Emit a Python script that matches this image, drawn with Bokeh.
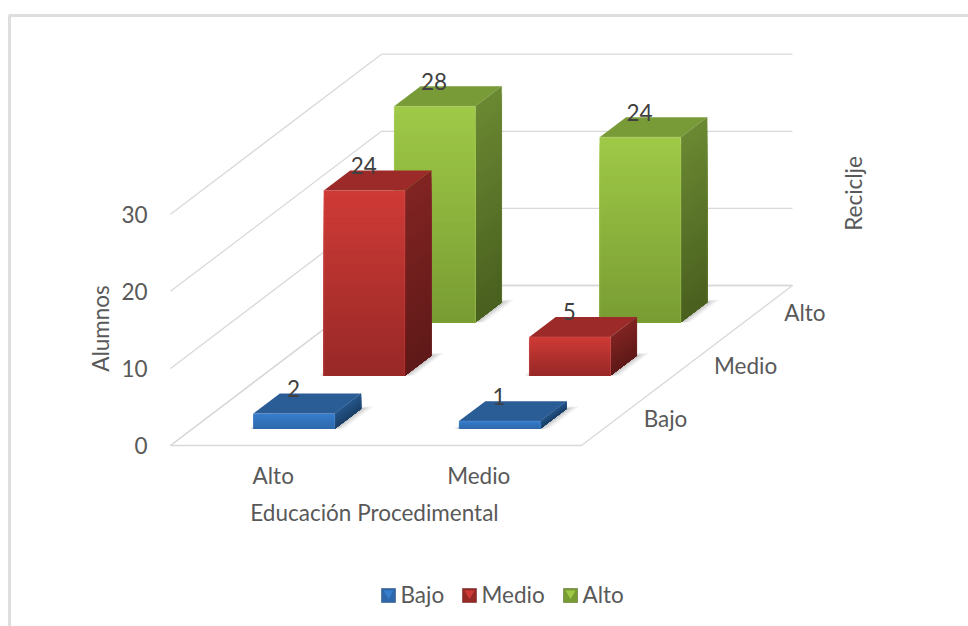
from bokeh.core.properties import value
from bokeh.embed import file_html
from bokeh.models import Range1d
from bokeh.plotting import figure
from bokeh.resources import INLINE

# Chart data
categories = ["Alto", "Medio"]
series_names = ["Bajo", "Medio", "Alto"]
bajo = [2, 1]
medio = [24, 5]
alto = [28, 24]
series_values = [bajo, medio, alto]
value_ticks = [0, 10, 20, 30]
axis_title_x = "Educación Procedimental"
axis_title_y = "Alumnos"
axis_title_z = "Reciclje"

# Face colours per series: front top/bottom, side top/bottom, top face
palette = {
    "Bajo": ((55, 125, 205), (46, 104, 170), (38, 86, 138), (28, 64, 104), (42, 92, 150)),
    "Medio": ((206, 58, 54), (150, 40, 38), (128, 36, 34), (94, 25, 24), (155, 42, 40)),
    "Alto": ((158, 201, 71), (120, 155, 50), (106, 136, 50), (72, 94, 30), (120, 155, 55)),
}

# Oblique projection of (category, series depth, value) on to the page
ORIGIN_X, ORIGIN_Y = 170.0, 445.0
CAT_DX = 205.5
DEPTH_DX, DEPTH_DY = 70.33, -53.33
UNIT_DY = -7.71
BAR_U = 0.297
BAR_W = 0.395
BAR_D = 0.3125
N_CATS, N_SERIES = len(categories), len(series_names)

GRID = "#d9d9d9"
TEXT = "#595959"
LABEL = "#404040"
FONT = value("Lato")
FONT_SIZE = "22.5px"


def proj(u, w, v=0.0):
    return ORIGIN_X + u * CAT_DX + w * DEPTH_DX, ORIGIN_Y + w * DEPTH_DY + v * UNIT_DY


def hexcol(c):
    return "#%02x%02x%02x" % tuple(int(round(k)) for k in c)


def mix(a, b, t):
    return tuple(x + (y - x) * t for x, y in zip(a, b))


def poly(points):
    px = [proj(*pt) for pt in points]
    return [q[0] for q in px], [q[1] for q in px]


p = figure(
    width=968, height=626, output_backend="svg", toolbar_location=None,
    x_range=Range1d(0, 968), y_range=Range1d(626, 0),
    x_axis_location=None, y_axis_location=None, min_border=0,
    background_fill_color="white", border_fill_color="white", outline_line_color=None,
)
p.grid.visible = False

# Outer chart frame, open towards the right and bottom
p.line([9, 9, 968], [626, 15, 15], line_color="#dedede", line_width=3)

# Wall gridlines, one per value tick
for v in value_ticks:
    xs, ys = poly([(0, 0, v), (0, N_SERIES, v), (N_CATS, N_SERIES, v)])
    p.line(xs, ys, line_color=GRID, line_width=1.3)

# Floor outline
xs, ys = poly([(0, 0), (N_CATS, 0), (N_CATS, N_SERIES), (0, N_SERIES)])
p.line(xs + xs[:1], ys + ys[:1], line_color=GRID, line_width=1.3)

# Bars, painted from the back row to the front row
STEPS = 28
for s in reversed(range(N_SERIES)):
    name = series_names[s]
    front_t, front_b, side_t, side_b, top_c = palette[name]
    for c in range(N_CATS):
        v = series_values[s][c]
        u0, u1 = c + BAR_U, c + BAR_U + BAR_W
        w0, w1 = s + BAR_D, s + BAR_D + 0.375

        # Soft contact shadow on the floor
        for grow, alpha in ((0.045, 0.05), (0.03, 0.07), (0.015, 0.09)):
            xs, ys = poly([(u0 - grow * 0.6, w0), (u1 + grow, w0),
                           (u1 + grow, w1 + grow), (u0, w1 + grow)])
            p.patch(xs, ys, fill_color="black", fill_alpha=alpha, line_color=None)

        # Vertical gradient built from overlapping bands, top to bottom
        for i in range(STEPS):
            t = i / STEPS
            vt = v * (1 - t)
            xs, ys = poly([(u1, w0, vt), (u1, w1, vt), (u1, w1, 0), (u1, w0, 0)])
            p.patch(xs, ys, fill_color=hexcol(mix(side_t, side_b, t)), line_color=None)
        for i in range(STEPS):
            t = i / STEPS
            vt = v * (1 - t)
            xs, ys = poly([(u0, w0, vt), (u1, w0, vt), (u1, w0, 0), (u0, w0, 0)])
            p.patch(xs, ys, fill_color=hexcol(mix(front_t, front_b, t)), line_color=None)

        # Top face and bevel highlights
        xs, ys = poly([(u0, w0, v), (u1, w0, v), (u1, w1, v), (u0, w1, v)])
        p.patch(xs, ys, fill_color=hexcol(top_c), line_color=None)
        xs, ys = poly([(u1, w0, v), (u1, w1, v), (u1, w1, 0)])
        p.line(xs, ys, line_color=hexcol(mix(side_t, (255, 255, 255), 0.12)), line_width=1, line_alpha=0.35)
        xs, ys = poly([(u0, w0, 0), (u0, w0, v), (u1, w0, v), (u1, w0, 0)])
        p.line(xs, ys, line_color=hexcol(mix(front_t, (255, 255, 255), 0.25)), line_width=1, line_alpha=0.35)

# Data labels sit just behind the middle of each bar's top face
lx, ly, lt = [], [], []
for s in range(N_SERIES):
    for c in range(N_CATS):
        v = series_values[s][c]
        x, y = proj(c + 0.5, s + 0.5, v)
        lx.append(x - 15)
        ly.append(y - 15)
        lt.append(str(v))
p.text(lx, ly, text=lt, text_font=FONT, text_font_size=FONT_SIZE, text_color=LABEL,
       text_align="center", text_baseline="middle")

# Value axis labels
p.text([147] * len(value_ticks), [proj(0, 0, v)[1] for v in value_ticks],
       text=[str(v) for v in value_ticks], text_font=FONT, text_font_size=FONT_SIZE, text_color=TEXT,
       text_align="right", text_baseline="middle")

# Category axis labels
p.text([proj(c + 0.5, 0)[0] for c in range(N_CATS)], [475] * N_CATS, text=categories,
       text_font=FONT, text_font_size=FONT_SIZE, text_color=TEXT,
       text_align="center", text_baseline="middle")

# Series (depth) axis labels
sx = [proj(N_CATS, s + 0.5)[0] + 27 for s in range(N_SERIES)]
sy = [proj(N_CATS, s + 0.5)[1] for s in range(N_SERIES)]
p.text(sx, sy, text=series_names, text_font=FONT, text_font_size=FONT_SIZE, text_color=TEXT,
       text_align="left", text_baseline="middle")

# Axis titles
p.text([374], [512], text=[axis_title_x], text_font=FONT, text_font_size=FONT_SIZE, text_color=TEXT,
       text_align="center", text_baseline="middle")
p.text([100], [328], text=[axis_title_y], angle=1.5708, text_font=FONT, text_font_size=FONT_SIZE,
       text_color=TEXT, text_align="center", text_baseline="middle")
p.text([853], [193], text=[axis_title_z], angle=1.5708, text_font=FONT, text_font_size=FONT_SIZE,
       text_color=TEXT, text_align="center", text_baseline="middle")

# Legend row
legend_key_x = [388, 469, 570]
legend_y = 595
for name, kx in zip(series_names, legend_key_x):
    front_t, front_b, side_t, side_b, top_c = palette[name]
    p.scatter([kx], [legend_y], marker="square", size=14, fill_color=hexcol(front_b),
              line_color=hexcol(side_b), line_width=0.5)
    p.scatter([kx], [legend_y - 2], marker="inverted_triangle", size=10,
              fill_color=hexcol(front_t), line_color=None)
    p.text([kx + 12], [legend_y - 1], text=[name], text_font=FONT, text_font_size=FONT_SIZE,
           text_color=TEXT, text_align="left", text_baseline="middle")

open("out.html", "w").write(file_html(p, INLINE))
